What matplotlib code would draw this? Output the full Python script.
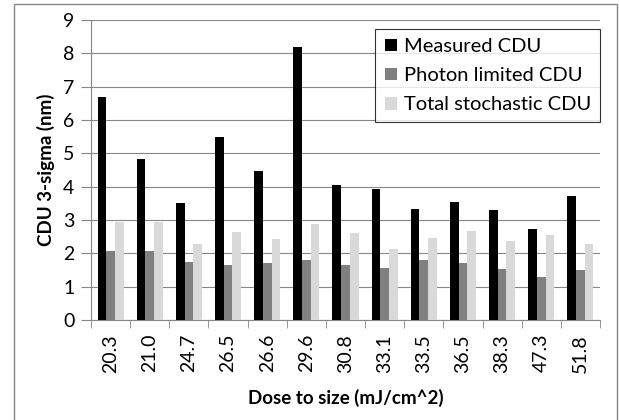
import matplotlib.pyplot as plt
import matplotlib.patches as patches
import numpy as np

plt.rcParams['font.family'] = ['Lato', 'DejaVu Sans']

# Daten
doses = ['20.3', '21.0', '24.7', '26.5', '26.6', '29.6', '30.8',
         '33.1', '33.5', '36.5', '38.3', '47.3', '51.8']
measured = [6.70, 4.82, 3.52, 5.50, 4.46, 8.20, 4.06,
            3.94, 3.33, 3.54, 3.30, 2.73, 3.73]
photon = [2.07, 2.07, 1.74, 1.64, 1.71, 1.80, 1.64,
          1.55, 1.81, 1.72, 1.53, 1.29, 1.50]
total = [2.95, 2.95, 2.28, 2.64, 2.43, 2.88, 2.62,
         2.12, 2.46, 2.67, 2.38, 2.55, 2.28]

fig = plt.figure(figsize=(6.19, 4.2), dpi=100)
ax = fig.add_axes([91/619, 1-320/420, 509/619, 300/420])

x = np.arange(len(doses))
w = 0.222
ax.bar(x - w, measured, w, color='black', label='Measured CDU', zorder=3)
ax.bar(x, photon, w, color='#808080', label='Photon limited CDU', zorder=3)
ax.bar(x + w, total, w, color='#d9d9d9', label='Total stochastic CDU', zorder=3)

ax.set_xlim(-0.5, len(doses) - 0.5)
ax.set_ylim(0, 9)
ax.set_yticks(range(10))
ax.set_xticks(x)
ax.set_xticklabels(doses, rotation=90, fontsize=14)
ax.tick_params(axis='x', length=0, pad=10)
ax.set_xticks(np.arange(-0.5, len(doses)), minor=True)
ax.tick_params(axis='x', which='minor', length=6, color='#868686')
ax.tick_params(axis='y', labelsize=14, length=7, color='#868686', pad=5)

ax.grid(axis='y', color='#868686', linewidth=0.8, zorder=0)
for s in ['top', 'right']:
    ax.spines[s].set_visible(False)
for s in ['left', 'bottom']:
    ax.spines[s].set_color('#868686')

ax.set_ylabel('CDU 3-sigma (nm)', fontsize=13.5, fontweight='bold', labelpad=6)
ax.set_xlabel('Dose to size (mJ/cm^2)', fontsize=13.5, fontweight='bold', labelpad=12)

leg = ax.legend(loc='upper right', bbox_to_anchor=(1.0, 0.97), fontsize=14.5,
                frameon=True, fancybox=False, handlelength=0.6, handleheight=0.6,
                handletextpad=0.35, borderpad=0.45, labelspacing=0.6,
                borderaxespad=0)
leg.get_frame().set_edgecolor('black')
leg.get_frame().set_linewidth(0.8)

# Rahmen um das Diagramm
fig.patches.append(patches.Rectangle((14/619, -0.05), 603/619, 1.05 - 4/420,
                                     transform=fig.transFigure, fill=False,
                                     edgecolor='#868686', linewidth=1))

plt.savefig('out.png', dpi=100)
